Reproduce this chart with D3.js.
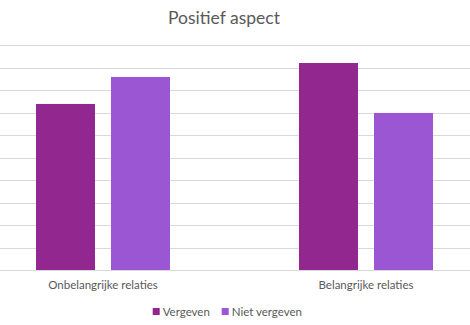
<!DOCTYPE html>
<html><head><meta charset="utf-8">
<script src="https://cdn.jsdelivr.net/npm/d3@7"></script>
<style>body{margin:0;background:#fff}svg{display:block}</style>
</head><body>
<script>
const categories = ["Onbelangrijke relaties", "Belangrijke relaties"];
const seriesNames = ["Vergeven", "Niet vergeven"];
const vergeven = [7.38, 9.2];
const nietVergeven = [8.58, 6.98];
const yTicks = [0,1,2,3,4,5,6,7,8,9,10];
const colors = ["#92278F", "#9B57D3"];

const W = 470, H = 325;
const svg = d3.select("body").append("svg").attr("width", W).attr("height", H);
const font = "Lato, 'Open Sans', sans-serif";

const y = d3.scaleLinear().domain([0, 10]).range([270, 45]);
const x0 = d3.scaleBand().domain(categories).range([-28.5, 497.5]);
const x1 = d3.scaleBand().domain(seriesNames).range([0, 134]).paddingInner(16/75);

svg.append("g").selectAll("line").data(yTicks).join("line")
  .attr("x1", 0).attr("x2", W)
  .attr("y1", d => Math.round(y(d)) + 0.5).attr("y2", d => Math.round(y(d)) + 0.5)
  .attr("stroke", "#d9d9d9").attr("stroke-width", 1);

const data = categories.map((c, i) => ({cat: c, vals: [vergeven[i], nietVergeven[i]]}));
const g = svg.append("g").selectAll("g").data(data).join("g")
  .attr("transform", d => `translate(${x0(d.cat) + x0.bandwidth()/2 - 67},0)`);
g.selectAll("rect").data(d => d.vals.map((v, j) => ({s: seriesNames[j], v, j}))).join("rect")
  .attr("x", d => x1(d.s)).attr("width", x1.bandwidth())
  .attr("y", d => y(d.v)).attr("height", d => y(0) - y(d.v))
  .attr("fill", d => colors[d.j]);

svg.append("g").selectAll("text").data(categories).join("text")
  .attr("x", d => x0(d) + x0.bandwidth()/2).attr("y", 289)
  .attr("text-anchor", "middle").attr("font-family", font).attr("font-size", 11.5)
  .attr("fill", "#595959").text(d => d);

svg.append("text").attr("x", 224).attr("y", 24).attr("text-anchor", "middle")
  .attr("font-family", font).attr("font-size", 17.5).attr("fill", "#595959").text("Positief aspect");

const legX = [152.7, 221.7];
const lg = svg.append("g").selectAll("g").data(seriesNames).join("g")
  .attr("transform", (d, i) => `translate(${legX[i]},308)`);
lg.append("rect").attr("width", 7).attr("height", 7).attr("fill", (d, i) => colors[i]);
lg.append("text").attr("x", 10).attr("y", 7.5).attr("font-family", font).attr("font-size", 11.5)
  .attr("fill", "#595959").text(d => d);
</script>
</body></html>
